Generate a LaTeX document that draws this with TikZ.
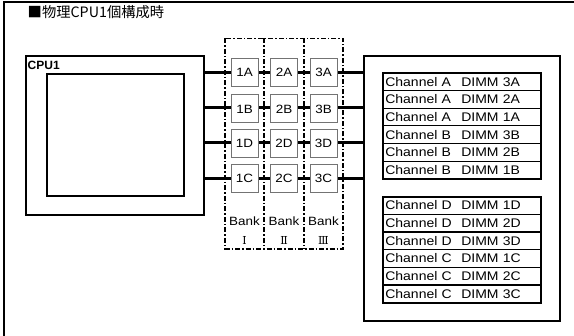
\documentclass[tikz,border=0pt]{standalone}
\usepackage{fontspec}
\setmainfont{Liberation Sans}
\newfontfamily\wfont[FakeStretch=1.12]{Liberation Sans}
\newfontfamily\cjkfont{Noto Sans CJK JP}
\newfontfamily\numfont{DejaVu Serif}
\begin{document}
\begin{tikzpicture}[x=1pt,y=-1pt,
  frame/.style={line width=1.5pt},
  cpubox/.style={draw,line width=2pt,rectangle,inner sep=0pt,anchor=north west},
  bus/.style={line width=3pt},
  chip/.style={draw=black!55,fill=white,line width=1pt,rectangle,minimum width=27pt,minimum height=28pt,inner sep=0pt,font=\wfont\fontsize{12}{13}\selectfont},
  bankline/.style={line width=1.3pt,dash pattern=on 5pt off 2pt on 1.5pt off 2pt},
  banklabel/.style={inner sep=0pt,font=\wfont\fontsize{12}{14}\selectfont},
  numlabel/.style={inner sep=0pt,font=\numfont\fontsize{11}{12}\selectfont},
  row/.style={draw,line width=1.2pt,rectangle,minimum width=158.3pt,minimum height=17.67pt,inner ysep=0pt,inner xsep=3pt,text width=152.3pt,align=left,anchor=north west,font=\wfont\fontsize{12.5}{14}\selectfont},
  tbl/.style={draw,line width=2pt,rectangle,minimum width=158.3pt,minimum height=106pt,inner sep=0pt,anchor=north west}
]
\useasboundingbox (0,0) rectangle (574,336);
% outer frame (top and left)
\coordinate (ftr) at (575,2);
\coordinate (ftl) at (4,2);
\coordinate (fbl) at (4,337);
\draw[frame] (ftr) -- (ftl) -- (fbl);
\node[anchor=west,inner sep=0pt,font=\cjkfont\fontsize{14.3}{16}\selectfont] (title) at (27.5,12) {■物理CPU1個構成時};

% CPU
\node[cpubox,minimum width=178pt,minimum height=159pt] (cpu) at (25,54.7) {};
\node[cpubox,minimum width=137pt,minimum height=122.3pt] (core) at (46,72.7) {};
\node[anchor=west,inner sep=0pt,font=\bfseries\fontsize{12}{14}\selectfont] (cpulabel) at (27.5,65) {CPU1};

% DIMM box
\node[cpubox,minimum width=196pt,minimum height=265pt] (dimm) at (363,55) {};

% row coordinates
\coordinate (rA) at (0,72.3);
\coordinate (rB) at (0,107.7);
\coordinate (rD) at (0,143);
\coordinate (rC) at (0,178.3);

% buses
\foreach \r in {rA,rB,rD,rC}{
  \draw[bus] (cpu.east |- \r) -- (dimm.west |- \r);
}

% banks
\coordinate (bk1) at (225,38.5);
\coordinate (bk2) at (343,249);
\coordinate (bd1t) at (264,38.5);
\coordinate (bd1b) at (264,249);
\coordinate (bd2t) at (304,38.5);
\coordinate (bd2b) at (304,249);
\draw[bankline] (bk1) rectangle (bk2);
\draw[bankline] (bd1t) -- (bd1b);
\draw[bankline] (bd2t) -- (bd2b);

% chips
\foreach \c/\x in {1/244.5,2/284,3/323.5}{
  \node[chip] (c\c A) at (\x,72.3) {\c A};
  \node[chip] (c\c B) at (\x,109) {\c B};
  \node[chip] (c\c D) at (\x,143.5) {\c D};
  \node[chip] (c\c C) at (\x,178.8) {\c C};
}

% bank labels
\node[banklabel] (bl1) at (244.5,221.7) {Bank};
\node[banklabel] (bl2) at (284,221.7) {Bank};
\node[banklabel] (bl3) at (323.5,221.7) {Bank};
\node[numlabel] (bn1) at (244.5,240) {Ⅰ};
\node[numlabel] (bn2) at (284,240) {Ⅱ};
\node[numlabel] (bn3) at (323.5,240) {Ⅲ};

% tables
\node[row] (t1) at (381.7,72.3) {\makebox[76pt][l]{Channel A}DIMM 3A};
\node[row] (t2) at (381.7,89.97) {\makebox[76pt][l]{Channel A}DIMM 2A};
\node[row] (t3) at (381.7,107.63) {\makebox[76pt][l]{Channel A}DIMM 1A};
\node[row] (t4) at (381.7,125.3) {\makebox[76pt][l]{Channel B}DIMM 3B};
\node[row] (t5) at (381.7,142.97) {\makebox[76pt][l]{Channel B}DIMM 2B};
\node[row] (t6) at (381.7,160.63) {\makebox[76pt][l]{Channel B}DIMM 1B};
\node[tbl] (tA) at (381.7,72.3) {};

\node[row] (u1) at (381.7,196) {\makebox[76pt][l]{Channel D}DIMM 1D};
\node[row] (u2) at (381.7,213.67) {\makebox[76pt][l]{Channel D}DIMM 2D};
\node[row] (u3) at (381.7,231.33) {\makebox[76pt][l]{Channel D}DIMM 3D};
\node[row] (u4) at (381.7,249) {\makebox[76pt][l]{Channel C}DIMM 1C};
\node[row] (u5) at (381.7,266.67) {\makebox[76pt][l]{Channel C}DIMM 2C};
\node[row] (u6) at (381.7,284.33) {\makebox[76pt][l]{Channel C}DIMM 3C};
\node[tbl] (tB) at (381.7,196) {};
\end{tikzpicture}
\end{document}
